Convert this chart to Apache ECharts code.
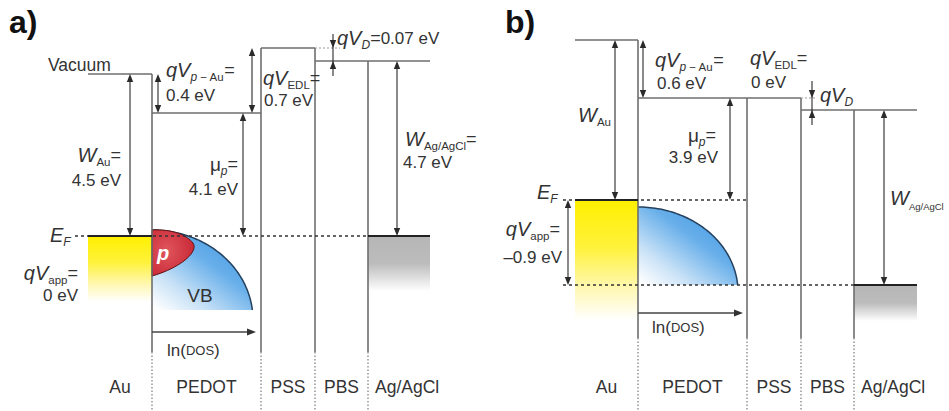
<!DOCTYPE html>
<html><head><meta charset="utf-8">
<script src="https://cdn.jsdelivr.net/npm/echarts@6/dist/echarts.min.js"></script>
<style>html,body{margin:0;padding:0;background:#fff}#c{width:949px;height:411px}</style>
</head><body><div id="c"></div>
<script>
const FONT = '"Liberation Sans", Arial, Helvetica, sans-serif';

// ---------------- data ----------------
const layerNames = ['Au', 'PEDOT', 'PSS', 'PBS', 'Ag/AgCl'];
// schematic band diagram: layer edges (x) and level positions (y, top -> down)
const edgesA = [88, 152, 261, 315, 368, 430];
const edgesB = [575, 638, 747, 801, 854, 917];
const vacuumA = [74, 113, 48, 61];   // vacuum level: Au, PEDOT, PSS, PBS = Ag/AgCl
const vacuumB = [40, 98, 98, 110];
const fermiA = [236, 236];           // E_F in Au, E_F in Ag/AgCl
const fermiB = [200, 285];
// labelled energies (eV): W_Au, qV_p-Au, qV_EDL, qV_D, mu_p, W_Ag/AgCl, qV_app
const energiesA = [4.5, 0.4, 0.7, 0.07, 4.1, 4.7, 0];
const energiesB = [null, 0.6, 0, null, 3.9, null, -0.9];

// ---------------- layout ----------------
const PA = {solidEnd: 352, efStart: 75, refLen: 25, xWAu: 130, xPAu: 158, xEDL: 252, xMu: 243, xWAg: 397, xD: 333, dUp: 14, dDown: 15, xApp: 0,
  dosAxisY: 332, dosAxisEnd: 256, dosTop: 230, dosRx: 101, dosRy: 90, dosEnd: 310, auFade: 66, agFade: 55};
const PB = {solidEnd: 338, efStart: 563, refLen: 16, xWAu: 615, xPAu: 643, xEDL: 0, xMu: 730, xWAg: 884, xD: 812, dUp: 17, dDown: 15, xApp: 568,
  dosAxisY: 313, dosAxisEnd: 743, dosTop: 207, dosRx: 100, dosRy: 85, dosEnd: 285, auFade: 120, agFade: 36};

function buildPanel(e, vac, ef, P) {
  const levels = [
    [e[0], vac[0], e[1], vac[0]],
    [e[1], vac[1], e[2], vac[1]],
    [e[2], vac[2], e[3], vac[2]],
    [e[3], vac[3], e[5], vac[3]],
    [e[1], Math.min(vac[0], vac[1]), e[1], P.solidEnd],
    [e[2], Math.min(vac[1], vac[2]), e[2], P.solidEnd],
    [e[3], Math.min(vac[2], vac[3]), e[3], P.solidEnd],
    [e[4], vac[3], e[4], P.solidEnd]
  ];
  const dotted = [1, 2, 3, 4].map(i => [e[i], P.solidEnd, e[i], 411]);
  const ref = [[e[3], vac[2], e[3] + P.refLen, vac[2]]];
  const dashes = ef[0] === ef[1]
    ? [[P.efStart, ef[0], e[5], ef[0]]]
    : [[P.efStart, ef[0], e[2], ef[0]], [P.efStart, ef[1], e[5], ef[1]]];
  const metal = [[e[0], ef[0], e[1], ef[0]], [e[4], ef[1], e[5], ef[1]]];
  const arrows = [[P.xWAu, vac[0], ef[0]], [P.xPAu, vac[0], vac[1]], [P.xMu, vac[1], ef[0]], [P.xWAg, vac[3], ef[1]]];
  if (vac[2] !== vac[1]) arrows.push([P.xEDL, vac[2], vac[1]]);
  if (ef[0] !== ef[1]) arrows.push([P.xApp, ef[0], ef[1]]);
  const inward = [[P.xD, vac[2], vac[3], P.dUp, P.dDown]];
  const axis = [[e[1], P.dosAxisY, P.dosAxisEnd]];
  const fills = [[e[0], ef[0], e[1], ef[0] + P.auFade, 0], [e[4], ef[1], e[5], ef[1] + P.agFade, 1]];
  const dos = [[e[1], P.dosTop, P.dosRx, P.dosRy, P.dosEnd]];
  return {levels, dotted, ref, dashes, metal, arrows, inward, axis, fills, dos};
}
const A = buildPanel(edgesA, vacuumA, fermiA, PA);
const B = buildPanel(edgesB, vacuumB, fermiB, PB);
const cat = k => A[k].concat(B[k]);

// ---------------- labels ----------------
const fmt = v => (v < 0 ? '\u2013' : '') + Math.abs(v);
const eV = v => '{n|' + fmt(v) + ' eV}';
const labels = [];
function L(x, y, t, a) { labels.push([x, y, t, a || 'left']); }
// panel a
L(9, 22, '{pl|a)}');
L(48, 65, '{vac|Vacuum}');
L(166, 70, '{i|qV}{is|p}{s| \u2212 Au}{eq|=}'); L(166, 95, eV(energiesA[1]));
L(263, 78, '{i|qV}{s|EDL}{eq|=}'); L(264, 100, eV(energiesA[2]));
L(337, 38, '{i|qV}{is|D}{eq|=}' + eV(energiesA[3]));
L(121, 155, '{i|W}{s|Au}{eq|=}', 'right'); L(121, 180, eV(energiesA[0]), 'right');
L(238, 164, '{mu|\u03bc}{is|p}{eq|=}', 'right'); L(238, 189, eV(energiesA[4]), 'right');
L(405, 139, '{i|W}{s|Ag/AgCl}{eq|=}'); L(403, 162, eV(energiesA[5]));
L(50, 235, '{i|E}{is|F}');
L(78, 273, '{i|qV}{s|app}{eq|=}', 'right'); L(78, 295, eV(energiesA[6]), 'right');
L(167, 350, '{n|ln(}{sc|DOS}{n|)}');
L(200, 295, '{vb|VB}', 'center');
L(157, 253, '{pp|p}');
// panel b
L(505, 22, '{pl|b)}');
L(655, 60, '{i|qV}{is|p}{s| \u2212 Au}{eq|=}'); L(657, 83, eV(energiesB[1]));
L(750, 58, '{i|qV}{s|EDL}{eq|=}'); L(751, 82, eV(energiesB[2]));
L(820, 95, '{i|qV}{is|D}');
L(578, 115, '{i|W}{s|Au}');
L(716, 135, '{mu|\u03bc}{is|p}{eq|=}', 'right'); L(718, 157, eV(energiesB[4]), 'right');
L(537, 192, '{i|E}{is|F}');
L(560, 229, '{i|qV}{s|app}{eq|=}', 'right'); L(562, 257, eV(energiesB[6]), 'right');
L(890, 198, '{i|W}{s2|Ag/AgCl}');
L(652, 327, '{n|ln(}{sc|DOS}{n|)}');
// layer names
[edgesA, edgesB].forEach(e => {
  layerNames.forEach((nm, i) => {
    if (i < 4) L((e[i] + e[i + 1]) / 2, 387, '{lay|' + nm + '}', 'center');
    else L(e[4] + 7, 387, '{lay|' + nm + '}', 'left');
  });
});

const RICH = {
  i:  {fontFamily: FONT, fontStyle: 'italic', fontSize: 20, lineHeight: 26},
  is: {fontFamily: FONT, fontStyle: 'italic', fontSize: 12, verticalAlign: 'bottom'},
  s:  {fontFamily: FONT, fontSize: 11.5, verticalAlign: 'bottom'},
  s2: {fontFamily: FONT, fontSize: 9.5, verticalAlign: 'bottom'},
  eq: {fontFamily: FONT, fontSize: 18},
  n:  {fontFamily: FONT, fontSize: 17},
  vac: {fontFamily: FONT, fontSize: 17.5},
  mu: {fontFamily: FONT, fontSize: 19, lineHeight: 26},
  sc: {fontFamily: FONT, fontSize: 13},
  lay: {fontFamily: FONT, fontSize: 17.5},
  vb: {fontFamily: FONT, fontSize: 19},
  pp: {fontFamily: FONT, fontStyle: 'italic', fontWeight: 'bold', fontSize: 20, fill: '#ffffff'},
  pl: {fontFamily: FONT, fontWeight: 'bold', fontSize: 32, fill: '#111111'}
};

// ---------------- renderers ----------------
function segRenderer(style) {
  return function (params, api) {
    const p1 = api.coord([api.value(0), api.value(1)]);
    const p2 = api.coord([api.value(2), api.value(3)]);
    return {type: 'line', shape: {x1: p1[0], y1: p1[1], x2: p2[0], y2: p2[1]}, style: Object.assign({fill: null}, style)};
  };
}
function head(tx, ty, dir, len, half) { // dir: +1 pointing down, -1 pointing up
  return {type: 'polygon', shape: {points: [[tx, ty], [tx - half, ty - dir * len], [tx + half, ty - dir * len]]}, style: {fill: '#2a2a2a'}};
}
function dblArrow(params, api) {
  const a = api.coord([api.value(0), api.value(1)]);
  const b = api.coord([api.value(0), api.value(2)]);
  const top = Math.min(a[1], b[1]), bot = Math.max(a[1], b[1]);
  return {type: 'group', children: [
    {type: 'line', shape: {x1: a[0], y1: top + 3, x2: a[0], y2: bot - 3}, style: {stroke: '#2a2a2a', lineWidth: 1.1}},
    head(a[0], top, -1, 8, 3.2), head(a[0], bot, 1, 8, 3.2)
  ]};
}
function inArrow(params, api) {
  const a = api.coord([api.value(0), api.value(1)]);
  const b = api.coord([api.value(0), api.value(2)]);
  const up = api.value(3), dn = api.value(4);
  return {type: 'group', children: [
    {type: 'line', shape: {x1: a[0], y1: a[1] - up, x2: a[0], y2: b[1] + dn}, style: {stroke: '#2a2a2a', lineWidth: 1.1}},
    head(a[0], a[1], 1, 8, 3.2), head(a[0], b[1], -1, 8, 3.2)
  ]};
}
function axisArrow(params, api) {
  const a = api.coord([api.value(0), api.value(1)]);
  const b = api.coord([api.value(2), api.value(1)]);
  return {type: 'group', children: [
    {type: 'line', shape: {x1: a[0], y1: a[1], x2: b[0] - 4, y2: a[1]}, style: {stroke: '#444', lineWidth: 1.4}},
    {type: 'polygon', shape: {points: [[b[0], b[1]], [b[0] - 9, b[1] - 3.5], [b[0] - 9, b[1] + 3.5]]}, style: {fill: '#333'}}
  ]};
}
function fillRenderer(params, api) {
  const a = api.coord([api.value(0), api.value(1)]);
  const b = api.coord([api.value(2), api.value(3)]);
  const kind = api.value(4);
  const grad = kind === 0
    ? new echarts.graphic.LinearGradient(0, 0, 0, 1, [{offset: 0, color: '#fff000'}, {offset: 0.4, color: '#fff23c'}, {offset: 0.75, color: '#fff8b8'}, {offset: 1, color: '#ffffff'}])
    : new echarts.graphic.LinearGradient(0, 0, 0, 1, [{offset: 0, color: '#b6b6b6'}, {offset: 0.5, color: '#bcbcbc'}, {offset: 0.8, color: '#e4e4e4'}, {offset: 1, color: '#ffffff'}]);
  return {type: 'rect', shape: {x: a[0], y: a[1], width: b[0] - a[0], height: b[1] - a[1]}, style: {fill: grad}};
}
function dosRenderer(params, api) {
  const o = api.coord([api.value(0), api.value(1)]);
  const sz = api.size([api.value(2), api.value(3)]);
  const end = api.coord([api.value(0), api.value(4)]);
  const rx = sz[0], ry = sz[1], cx = o[0], cy = o[1] + ry;
  const thEnd = Math.asin((cy - end[1]) / ry);
  const pts = [];
  for (let k = 0; k <= 60; k++) {
    const th = Math.PI / 2 - (Math.PI / 2 - thEnd) * k / 60;
    pts.push([cx + rx * Math.cos(th), cy - ry * Math.sin(th)]);
  }
  const poly = [[cx, end[1]]].concat(pts).concat([[pts[pts.length - 1][0], end[1]]]);
  return {type: 'group', children: [
    {type: 'polygon', shape: {points: poly}, style: {fill: new echarts.graphic.LinearGradient(0.95, 0.05, 0.05, 1, [
      {offset: 0, color: '#3a93e0'}, {offset: 0.4, color: '#68afea'}, {offset: 0.75, color: '#cbe3f7'}, {offset: 1, color: '#ffffff'}])}},
    {type: 'polyline', shape: {points: pts}, style: {stroke: '#24415f', lineWidth: 1.5, fill: null}}
  ]};
}
function bez(p0, p1, p2, p3, n) {
  const out = [];
  for (let k = 0; k <= n; k++) {
    const t = k / n, u = 1 - t;
    out.push([u*u*u*p0[0] + 3*u*u*t*p1[0] + 3*u*t*t*p2[0] + t*t*t*p3[0], u*u*u*p0[1] + 3*u*u*t*p1[1] + 3*u*t*t*p2[1] + t*t*t*p3[1]]);
  }
  return out;
}
function holeRenderer(params, api) {
  const o = api.coord([api.value(0), api.value(1)]);
  const P = (dx, dy) => [o[0] + dx, o[1] + dy];
  const pts = bez(P(0, 0), P(16, -1), P(33, 3), P(41, 13), 20)
    .concat(bez(P(41, 13), P(47, 22), P(28, 38), P(0, 46), 20));
  return {type: 'polygon', shape: {points: pts}, style: {
    fill: new echarts.graphic.RadialGradient(0.35, 0.45, 0.8, [{offset: 0, color: '#e0565c'}, {offset: 1, color: '#c41f2e'}]),
    stroke: '#5e1414', lineWidth: 1}};
}
function textRenderer(params, api) {
  const l = labels[api.value(2)];
  const p = api.coord([api.value(0), api.value(1)]);
  return {type: 'text', x: p[0], y: p[1], style: {text: l[2], rich: RICH, align: l[3], verticalAlign: 'middle',
    fill: '#333333', fontFamily: FONT, fontSize: 17}};
}

const custom = (name, data, renderItem, z) => ({type: 'custom', name, data, renderItem, z, silent: true, animation: false});

const chart = echarts.init(document.getElementById('c'), null, {renderer: 'svg', width: 949, height: 411});
chart.setOption({
  backgroundColor: '#ffffff',
  animation: false,
  grid: {left: 0, right: 0, top: 0, bottom: 0},
  xAxis: {type: 'value', min: 0, max: 949, show: false},
  yAxis: {type: 'value', min: 0, max: 411, inverse: true, show: false},
  series: [
    custom('fills', cat('fills'), fillRenderer, 1),
    custom('dos', cat('dos'), dosRenderer, 2),
    custom('hole', [[edgesA[1], PA.dosTop]], holeRenderer, 3),
    custom('levels', cat('levels'), segRenderer({stroke: '#6e6e6e', lineWidth: 1.6}), 4),
    custom('dotted', cat('dotted'), segRenderer({stroke: '#7a7a7a', lineWidth: 1.2, lineDash: [1.5, 2]}), 4),
    custom('ref', cat('ref'), segRenderer({stroke: '#9a9a9a', lineWidth: 1, lineDash: [2, 2]}), 4),
    custom('fermi', cat('dashes'), segRenderer({stroke: '#333333', lineWidth: 1.6, lineDash: [3, 3]}), 5),
    custom('metal', cat('metal'), segRenderer({stroke: '#222222', lineWidth: 2}), 6),
    custom('arrows', cat('arrows'), dblArrow, 7),
    custom('inward', cat('inward'), inArrow, 7),
    custom('dosAxis', cat('axis'), axisArrow, 7),
    custom('labels', labels.map((l, i) => [l[0], l[1], i]), textRenderer, 10)
  ]
});
</script></body></html>
